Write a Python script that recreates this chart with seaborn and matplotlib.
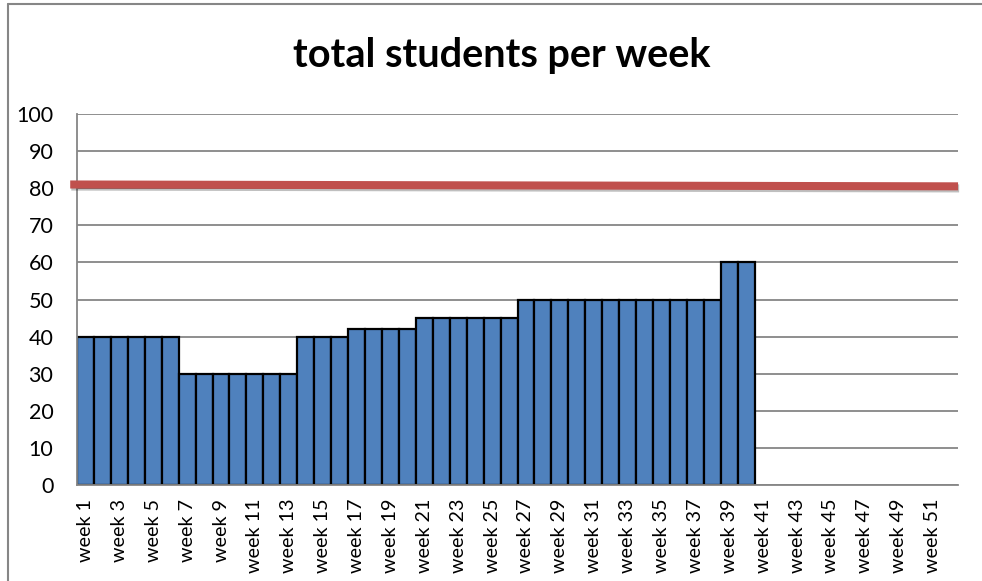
import numpy as np
import pandas as pd
import matplotlib
matplotlib.use('Agg')
import matplotlib.pyplot as plt
import matplotlib.patheffects as pe
from matplotlib.lines import Line2D
import seaborn as sns

# data
weeks = ['week %d' % i for i in range(1, 53)]
students = [40, 40, 40, 40, 40, 40,
            30, 30, 30, 30, 30, 30, 30,
            40, 40, 40,
            42, 42, 42, 42,
            45, 45, 45, 45, 45, 45,
            50, 50, 50, 50, 50, 50, 50, 50, 50, 50, 50, 50,
            60, 60]
target = [81, 80.5]  # red target line, left end / right end

sns.set_style('white')
plt.rcParams['font.family'] = ['Lato', 'DejaVu Sans']
grey = '#868686'

df = pd.DataFrame({'week': weeks[:len(students)], 'students': students})

fig = plt.figure(figsize=(9.82, 5.81), dpi=100)
ax = fig.add_axes([0.0784, 0.1652, 0.8972, 0.6386])

sns.barplot(data=df, x='week', y='students', order=weeks, color='#4F81BD',
            saturation=1, width=1.0, edgecolor='black', linewidth=1.6, ax=ax, zorder=3)

# target line (drawn shape in the original, with a soft shadow)
ax.plot([-0.9, len(weeks) - 0.5], target, color='#C0504D', lw=5.8,
        solid_capstyle='butt', clip_on=False, zorder=5,
        path_effects=[pe.SimpleLineShadow(offset=(0.8, -1.5), alpha=0.25, shadow_color='black'),
                      pe.Normal()])

ax.set_xlim(-0.5, len(weeks) - 0.5)
ax.set_ylim(0, 100)
ax.set_yticks(range(0, 101, 10))
ax.yaxis.grid(True, color=grey, lw=1.3, zorder=0)
ax.set_axisbelow(True)
ax.set_xlabel('')
ax.set_ylabel('')

# labels on every other week, ticks on the category boundaries
ax.set_xticks(range(0, len(weeks), 2))
ax.set_xticklabels(weeks[::2], rotation=90, fontsize=14.2)
ax.set_xticks(np.arange(-0.5, len(weeks), 1), minor=True)
ax.tick_params(axis='x', which='major', length=0, pad=10, labelcolor='black')
ax.tick_params(axis='x', which='minor', length=5, width=1.3, color=grey, direction='out')
ax.tick_params(axis='y', length=5, width=1.3, color=grey, direction='out', labelsize=15.5,
               pad=12, labelcolor='black')

for side in ['top', 'right']:
    ax.spines[side].set_visible(False)
for side in ['left', 'bottom']:
    ax.spines[side].set_color(grey)
    ax.spines[side].set_linewidth(1.3)
    ax.spines[side].set_zorder(4)

fig.text(0.5107, 0.905, 'total students per week', ha='center', va='center',
         fontsize=28.5, fontweight='bold', color='black')

# chart frame (left and top edges visible in the crop)
fig.add_artist(Line2D([8 / 982, 8 / 982], [0, 1 - 4 / 581], color=grey, lw=1.5))
fig.add_artist(Line2D([8 / 982, 1], [1 - 4 / 581, 1 - 4 / 581], color=grey, lw=1.5))

fig.savefig('out.png', dpi=100)
